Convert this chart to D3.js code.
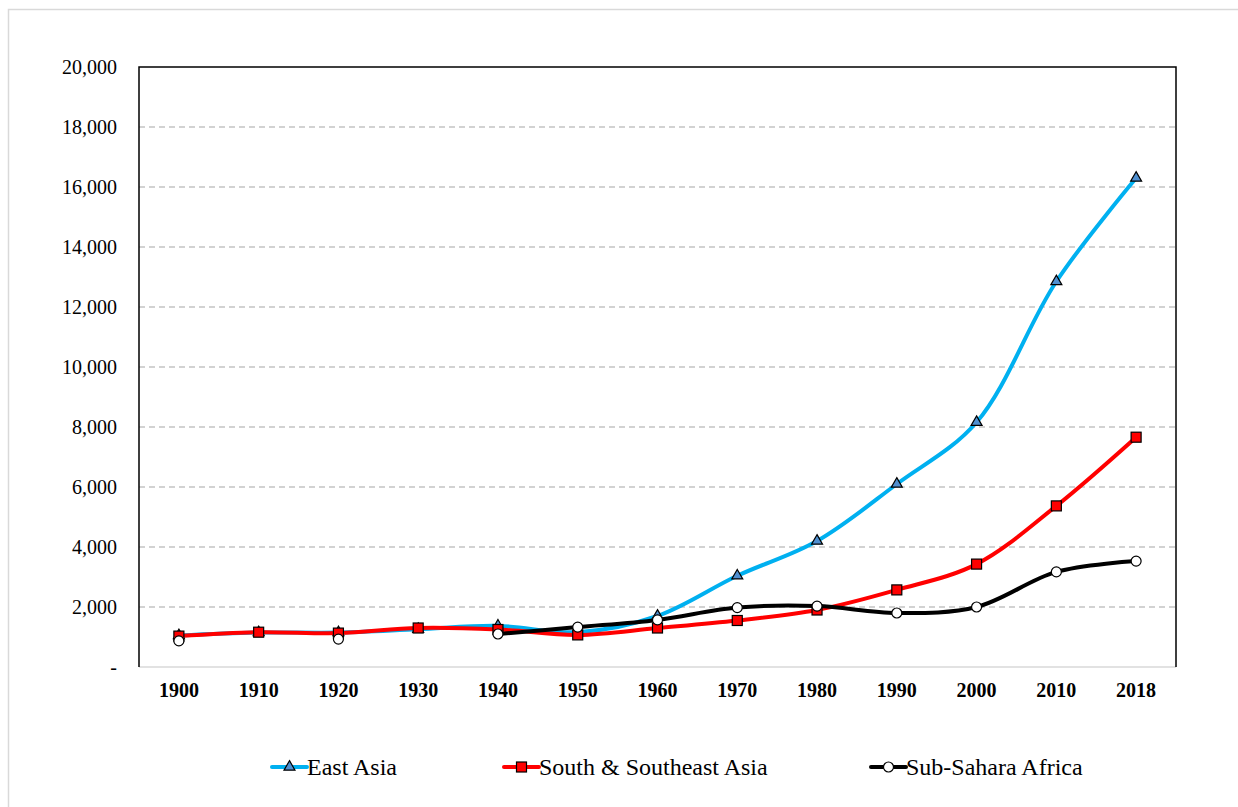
<!DOCTYPE html>
<html><head><meta charset="utf-8">
<script src="https://cdn.jsdelivr.net/npm/d3@7"></script>
<style>
body{margin:0;background:#fff}
svg{display:block}
svg text{font-family:"Liberation Serif","Times New Roman",Tinos,serif !important;}
</style>
</head><body><svg id="c" width="1238" height="807"></svg>
<script>
const years = ["1900","1910","1920","1930","1940","1950","1960","1970","1980","1990","2000","2010","2018"];
const eastAsia = [1050,1150,1150,1260,1370,1160,1700,3040,4200,6100,8160,12850,16300];
const southAsia = [1030,1160,1130,1300,1250,1070,1300,1550,1900,2570,3430,5370,7660];
const subSahara = [870,null,930,null,1100,1330,1570,1980,2030,1800,2000,3170,3530];
const yTicks = [0,2000,4000,6000,8000,10000,12000,14000,16000,18000,20000];
const seriesNames = ["East Asia","South & Southeast Asia","Sub-Sahara Africa"];

const svg = d3.select("#c");
const L=139,R=1176,T=67,B=667;
const x = d3.scaleBand().domain(years).range([L,R]);
const y = d3.scaleLinear().domain([0,20000]).range([B,T]);

svg.append("rect").attr("x",8.5).attr("y",9.5).attr("width",1240).attr("height",810)
  .attr("fill","none").attr("stroke","#d9d9d9").attr("stroke-width",1.5);

// gridlines
svg.append("g").selectAll("line").data(yTicks.filter(d=>d>0&&d<20000)).join("line")
  .attr("x1",L).attr("x2",R).attr("y1",d=>y(d)).attr("y2",d=>y(d))
  .attr("stroke","#a6a6a6").attr("stroke-width",1.2).attr("stroke-dasharray","6,4");

// y axis
const yAxis = d3.axisLeft(y).tickValues(yTicks).tickSize(0).tickPadding(22)
  .tickFormat(d=>d===0?"-":d3.format(",")(d));
const gy = svg.append("g").attr("transform",`translate(${L},0)`).call(yAxis);
gy.attr("font-family",null).attr("font-size",null);
gy.select(".domain").remove();
gy.selectAll("text").style("font-size","20px").attr("fill","#000");

// x axis
const xAxis = d3.axisBottom(x).tickSize(0).tickPadding(16);
const gx = svg.append("g").attr("transform",`translate(0,${B})`).call(xAxis);
gx.attr("font-family",null).attr("font-size",null);
gx.select(".domain").remove();
gx.selectAll("text").style("font-size","20px").style("font-weight","bold").attr("fill","#000");

// frame
svg.append("line").attr("x1",L).attr("x2",R).attr("y1",B).attr("y2",B).attr("stroke","#d9d9d9").attr("stroke-width",1.5);
svg.append("path").attr("d",`M${L},${B}V${T}H${R}V${B}`).attr("fill","none").attr("stroke","#000").attr("stroke-width",1.5);

const cx = d=>x(d)+x.bandwidth()/2;
const series = [
  {name:seriesNames[0],vals:eastAsia,color:"#00b0f0",marker:"tri"},
  {name:seriesNames[1],vals:southAsia,color:"#ff0000",marker:"sq"},
  {name:seriesNames[2],vals:subSahara,color:"#000000",marker:"circ"}
];
const line = d3.line().defined(d=>d.v!=null).x(d=>cx(d.k)).y(d=>y(d.v)).curve(d3.curveCatmullRom.alpha(0.5));

function drawMarker(g,type,px,py){
  if(type==="tri"){
    g.append("path").attr("d",d3.symbol(d3.symbolTriangle,52)()).attr("transform",`translate(${px},${py})`)
      .attr("fill","#4f8fd0").attr("stroke","#000").attr("stroke-width",1.2);
  } else if(type==="sq"){
    g.append("rect").attr("x",px-5).attr("y",py-5).attr("width",10).attr("height",10)
      .attr("fill","#ff0000").attr("stroke","#000").attr("stroke-width",1.2);
  } else {
    g.append("circle").attr("cx",px).attr("cy",py).attr("r",5)
      .attr("fill","#fff").attr("stroke","#000").attr("stroke-width",1.2);
  }
}

series.forEach(s=>{
  const data = years.map((k,i)=>({k,v:s.vals[i]}));
  const g = svg.append("g");
  g.append("path").attr("d",line(data)).attr("fill","none").attr("stroke",s.color).attr("stroke-width",4)
    .attr("stroke-linejoin","round").attr("stroke-linecap","round");
  data.filter(d=>d.v!=null).forEach(d=>drawMarker(g,s.marker,cx(d.k),y(d.v)));
});

// legend
const legX = [272,504,871];
const ly = 767;
series.forEach((s,i)=>{
  const g = svg.append("g");
  g.append("line").attr("x1",legX[i]).attr("x2",legX[i]+35).attr("y1",ly).attr("y2",ly)
    .attr("stroke",s.color).attr("stroke-width",4).attr("stroke-linecap","round");
  drawMarker(g,s.marker,legX[i]+17.5,ly);
  g.append("text").attr("x",legX[i]+35).attr("y",ly).attr("dy","0.35em")
    .style("font-size","24px").attr("fill","#000").text(s.name);
});
</script></body></html>
